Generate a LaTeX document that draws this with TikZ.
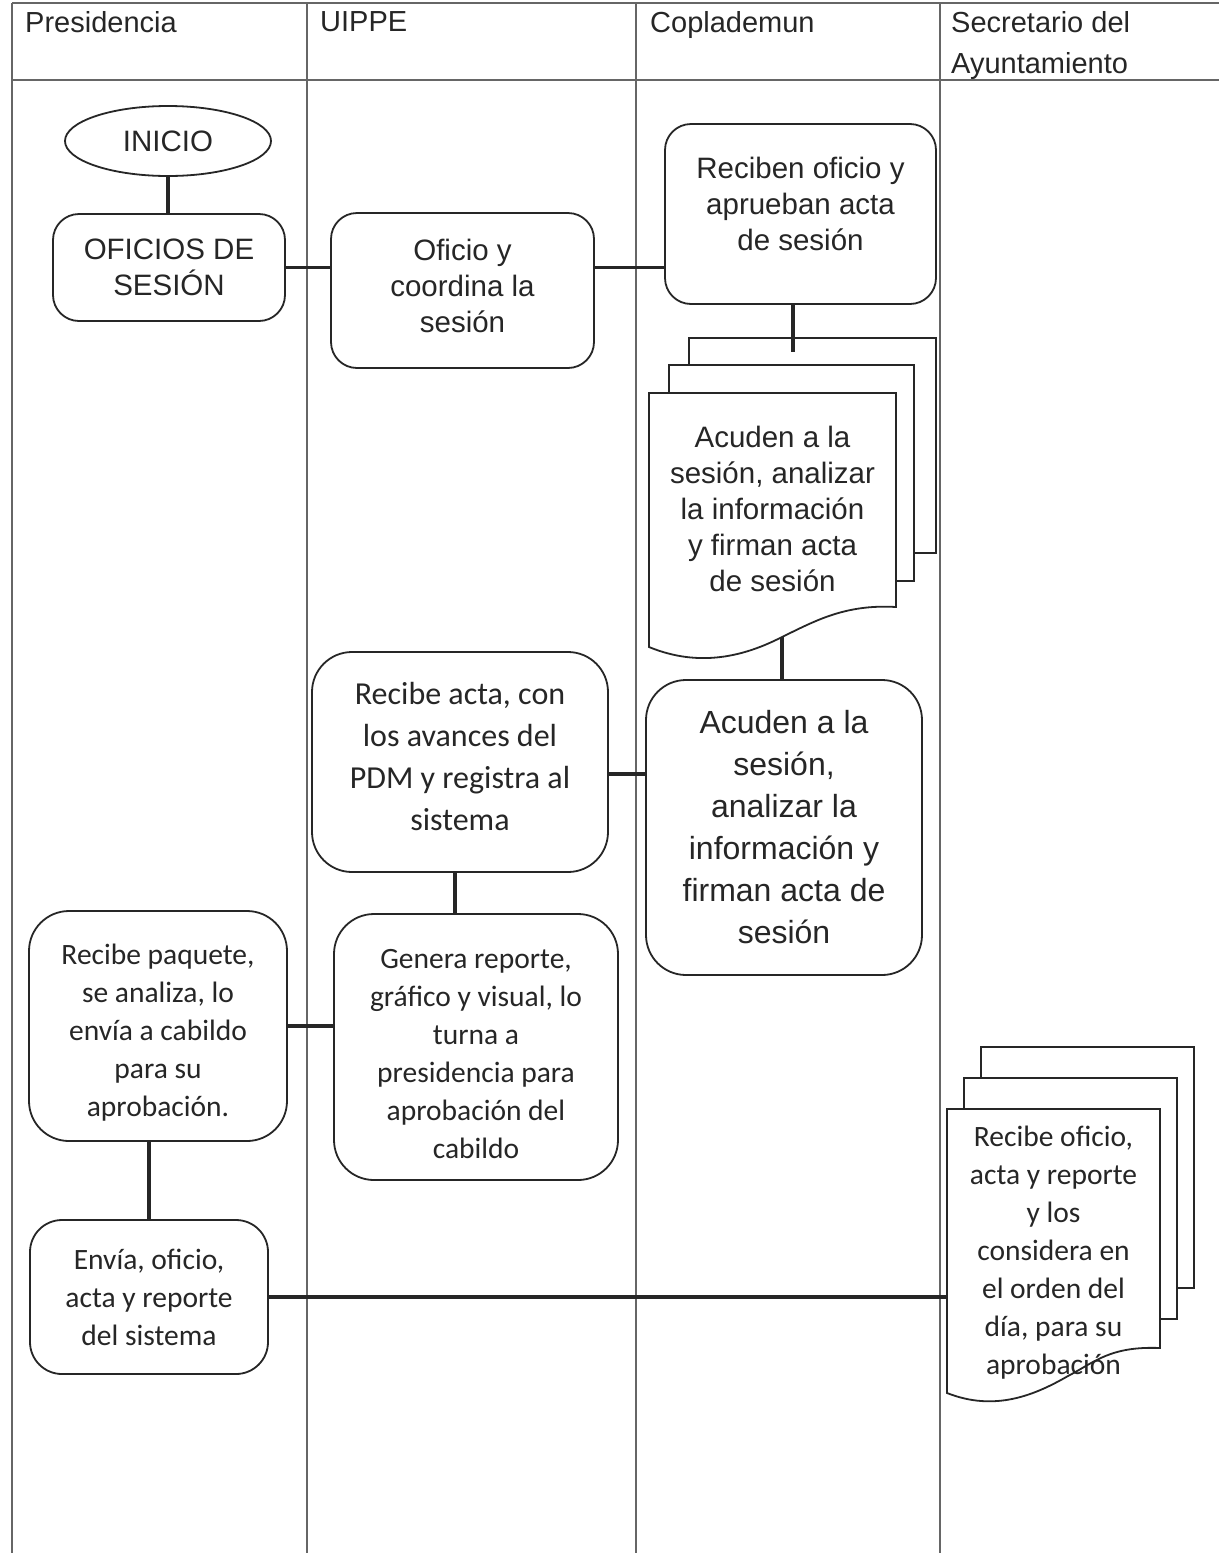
\documentclass[tikz,border=0pt]{standalone}
\usepackage{fontspec}
\setmainfont{Liberation Sans}
\newfontfamily\calibri{Carlito}
\usetikzlibrary{shapes.geometric}

\tikzset{
	lane/.style={draw=black!60, line width=1.2pt},
	lanehead/.style={anchor=north west, align=left, inner sep=0pt, text=black!85, font=\fontsize{29}{41}\selectfont},
	proc/.style={draw=black!85, line width=1.8pt, rounded corners=26pt, fill=white, align=center, inner sep=0pt, text=black!85},
	sheet/.style={draw=black!85, line width=1.8pt, fill=white},
	link/.style={draw=black!85, line width=3.2pt},
	arialtxt/.style={font=\fontsize{29.5}{36}\selectfont},
	calibritxt/.style={font=\calibri\fontsize{29.5}{38}\selectfont},
}

\begin{document}
\begin{tikzpicture}[x=1pt, y=-1pt]
	\useasboundingbox (0,0) rectangle (1219,1553);
	\draw[lane] (12,3) -- (1219,3);
	\draw[lane] (12,80) -- (1219,80);
	\foreach \lx in {12,307,636,940} \draw[lane] (\lx,3) -- (\lx,1553);
	\node[lanehead] (Presidencia) at (25,11) {Presidencia};
	\node[lanehead] (UIPPE) at (320,11) {UIPPE};
	\node[lanehead] (Coplademun) at (650,11) {Coplademun};
	\node[lanehead] (Secretario) at (951,11) {Secretario del\\Ayuntamiento};

	\draw[sheet] (689,338) rectangle (936,553);
	\draw[sheet] (669,365) rectangle (914,581);
	\draw[sheet] (649,393) -- (896,393) -- (896,607) .. controls (845,604) and (815,621) .. (782,637) .. controls (745,656) and (700,668) .. (649,647) -- cycle;
	\draw[sheet] (981,1047) rectangle (1194,1288);
	\draw[sheet] (964,1078) rectangle (1177,1319);
	\draw[sheet] (947,1109) -- (1160,1109) -- (1160,1348) .. controls (1110,1346) and (1095,1362) .. (1068,1376) .. controls (1035,1395) and (995,1412) .. (947,1393) -- cycle;

	\node[draw=black!85, line width=1.8pt, ellipse, fill=white, inner sep=0pt, minimum width=206, minimum height=70, text=black!85, arialtxt] (Inicio) at (168,141) {INICIO};
	\node[proc, arialtxt, minimum width=232, minimum height=107] (Oficios) at (169,267.5) {OFICIOS DE\\SESIÓN};
	\node[proc, arialtxt, minimum width=263, minimum height=155, text depth=9pt] (Oficio) at (462.5,290.5) {Oficio y\\coordina la\\sesión};
	\node[proc, arialtxt, minimum width=271, minimum height=180, text depth=21pt] (Reciben) at (800.5,214) {Reciben oficio y\\aprueban acta\\de sesión};
	\node[align=center, inner sep=0pt, minimum width=247, text=black!85, arialtxt] (AcudenDoc) at (772.5,509) {Acuden a la\\sesión, analizar\\la información\\y firman acta\\de sesión};
	\node[proc, rounded corners=40pt, minimum width=276, minimum height=295, font=\fontsize{32}{42}\selectfont] (AcudenBox) at (784,827.5) {Acuden a la\\sesión,\\analizar la\\información y\\firman acta de\\sesión};
	\node[proc, rounded corners=40pt, minimum width=296, minimum height=220, text depth=12pt, font=\calibri\fontsize{32}{42}\selectfont] (RecibeActa) at (460,762) {Recibe acta, con\\los avances del\\PDM y registra al\\sistema};
	\node[proc, rounded corners=40pt, minimum width=284, minimum height=266, calibritxt] (Genera) at (476,1047) {\rule{0pt}{33pt}Genera reporte,\\gráfico y visual, lo\\turna a\\presidencia para\\aprobación del\\cabildo};
	\node[proc, rounded corners=40pt, minimum width=258, minimum height=230, calibritxt] (RecibePaquete) at (158,1026) {\rule{0pt}{33pt}Recibe paquete,\\se analiza, lo\\envía a cabildo\\para su\\aprobación.};
	\node[proc, rounded corners=32pt, minimum width=238, minimum height=154, calibritxt] (Envia) at (149,1297) {Envía, oficio,\\acta y reporte\\del sistema};
	\node[align=center, inner sep=0pt, minimum width=213, text=black!85, calibritxt] (RecibeDoc) at (1053.5,1253) {Recibe oficio,\\acta y reporte\\y los\\considera en\\el orden del\\día, para su\\aprobación};

	\coordinate (RecibenEnd) at (793,352);
	\coordinate (AcudenDocEnd) at (782,637);
	\draw[link] (Inicio.south) -- (Inicio.south |- Oficios.north);
	\draw[link] (Oficios.east) -- (Oficios.east -| Oficio.west);
	\draw[link] (Oficios.east -| Oficio.east) -- (Oficios.east -| Reciben.west);
	\draw[link] (Reciben.south -| RecibenEnd) -- (RecibenEnd);
	\draw[link] (AcudenDocEnd) -- (AcudenDocEnd |- AcudenBox.north);
	\draw[link] ([yshift=-12pt]RecibeActa.east) -- ([yshift=-12pt]RecibeActa.east -| AcudenBox.west);
	\draw[link] ([xshift=-5pt]RecibeActa.south) -- ([xshift=-5pt]RecibeActa.south |- Genera.north);
	\draw[link] (RecibePaquete.east) -- (RecibePaquete.east -| Genera.west);
	\draw[link] (Envia.north) -- (Envia.north |- RecibePaquete.south);
	\draw[link] (Envia.east) -- (Envia.east -| RecibeDoc.west);
\end{tikzpicture}
\end{document}
